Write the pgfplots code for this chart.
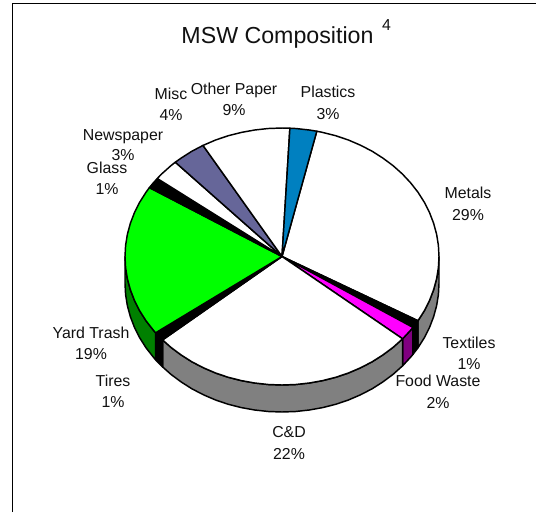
\documentclass[border=0pt]{standalone}
\usepackage{pgfplots}
\usepackage{fontspec}
\setmainfont{Liberation Sans}
\pgfplotsset{compat=1.18}
\definecolor{cblue}{HTML}{0080C0}
\definecolor{cmisc}{HTML}{666699}
\definecolor{cgreen}{HTML}{00FF00}
\definecolor{cdgreen}{HTML}{008000}
\definecolor{cmag}{HTML}{FF00FF}
\definecolor{cpur}{HTML}{800080}
\definecolor{cgray}{HTML}{808080}
\definecolor{ctext}{HTML}{111111}
\tikzset{lab/.style={anchor=base, font=\fontsize{11.9pt}{13pt}\selectfont, text=ctext, inner sep=0pt}}
\begin{document}
\begin{tikzpicture}
\begin{axis}[
  at={(0,0)}, anchor=south west,
  scale only axis, width=402pt, height=384pt,
  xmin=0, xmax=536, ymin=0, ymax=512, y dir=reverse,
  hide axis, clip=true,
  every axis plot/.append style={line width=1.1pt, line join=round, draw=black, mark=none},
]
% frame
\addplot[draw=black, mark=none] coordinates {(12.3,512) (12.3,3.3) (536,3.3)};
% side walls
\addplot[fill=cgray] coordinates {(439,256.5)(438.4,267.7)(436.6,278.8)(433.6,289.8)(429.5,300.5)(424.3,310.8)(418,320.75)
 (418,347.75)(424.3,337.8)(429.5,327.5)(433.6,316.8)(436.6,305.8)(438.4,294.7)(439,283.5)} --cycle;
\addplot[fill=black] coordinates {(418,320.75)(412.9,327.4)(412.9,354.4)(418,347.75)} --cycle;
\addplot[fill=cpur] coordinates {(412.9,327.4)(410.6,330.2)(402.6,338.8)(402.6,365.8)(410.6,357.2)(412.9,354.4)} --cycle;
\addplot[fill=cgray] coordinates {(402.6,338.8)(393,347.4)(382.9,354.9)(372.1,361.8)(360.5,367.8)(348.4,373)(335.7,377.3)(322.6,380.6)(309.3,383)(295.7,384.5)(282,385)(268.3,384.5)(254.7,383)(241.4,380.6)(228.3,377.3)(215.6,373)(203.5,367.8)(191.9,361.8)(181.1,354.9)(171,347.4)(162.6,339.9)
 (162.6,366.9)(171,374.4)(181.1,381.9)(191.9,388.8)(203.5,394.8)(215.6,400)(228.3,404.3)(241.4,407.6)(254.7,410)(268.3,411.5)(282,412)(295.7,411.5)(309.3,410)(322.6,407.6)(335.7,404.3)(348.4,400)(360.5,394.8)(372.1,388.8)(382.9,381.9)(393,374.4)(402.6,365.8)} --cycle;
\addplot[fill=black] coordinates {(162.6,339.9)(155.6,332.8)(155.6,359.8)(162.6,366.9)} --cycle;
\addplot[fill=cdgreen] coordinates {(155.6,332.8)(153.4,330.2)(146,320.75)(139.7,310.8)(134.5,300.5)(130.4,289.8)(127.4,278.8)(125.6,267.7)(125,256.5)
 (125,283.5)(125.6,294.7)(127.4,305.8)(130.4,316.8)(134.5,327.5)(139.7,337.8)(146,347.75)(153.4,357.2)(155.6,359.8)} --cycle;
% top wedges
\addplot[fill=white] coordinates {(282,256.5)(316.8,131.2)(322.6,132.4)(335.7,135.7)(348.4,140)(360.5,145.2)(372.1,151.2)(382.9,158.1)(393,165.6)(402.3,173.9)(410.6,182.8)(418,192.25)(424.3,202.2)(429.5,212.5)(433.6,223.2)(436.6,234.2)(438.4,245.3)(439,256.5)(438.4,267.7)(436.6,278.8)(433.6,289.8)(429.5,300.5)(424.3,310.8)(418,320.75)} --cycle;
\addplot[fill=black] coordinates {(282,256.5)(418,320.75)(412.9,327.4)} --cycle;
\addplot[fill=cmag] coordinates {(282,256.5)(412.9,327.4)(410.6,330.2)(402.6,338.8)} --cycle;
\addplot[fill=white] coordinates {(282,256.5)(402.6,338.8)(393,347.4)(382.9,354.9)(372.1,361.8)(360.5,367.8)(348.4,373)(335.7,377.3)(322.6,380.6)(309.3,383)(295.7,384.5)(282,385)(268.3,384.5)(254.7,383)(241.4,380.6)(228.3,377.3)(215.6,373)(203.5,367.8)(191.9,361.8)(181.1,354.9)(171,347.4)(162.6,339.9)} --cycle;
\addplot[fill=black] coordinates {(282,256.5)(162.6,339.9)(155.6,332.8)} --cycle;
\addplot[fill=cgreen] coordinates {(282,256.5)(155.6,332.8)(153.4,330.2)(146,320.75)(139.7,310.8)(134.5,300.5)(130.4,289.8)(127.4,278.8)(125.6,267.7)(125,256.5)(125.6,245.3)(127.4,234.2)(130.4,223.2)(134.5,212.5)(139.7,202.2)(146,192.25)(149.4,187.6)} --cycle;
\addplot[fill=black] coordinates {(282,256.5)(149.4,187.6)(153.4,182.8)(157.3,178.5)} --cycle;
\addplot[fill=white] coordinates {(282,256.5)(157.3,178.5)(161.7,173.9)(171,165.6)(175.3,162.2)} --cycle;
\addplot[fill=cmisc] coordinates {(282,256.5)(175.3,162.2)(181.1,158.1)(191.9,151.2)(203,145.4)} --cycle;
\addplot[fill=white] coordinates {(282,256.5)(203,145.4)(203.5,145.2)(215.6,140)(228.3,135.7)(241.4,132.4)(254.7,130)(268.3,128.5)(282,128)(289.9,128.2)} --cycle;
\addplot[fill=cblue] coordinates {(282,256.5)(289.9,128.2)(295.7,128.5)(309.3,130)(316.8,131.2)} --cycle;
% text
\node[anchor=base, font=\fontsize{17.4pt}{20pt}\selectfont, text=ctext, inner sep=0pt] at (axis cs:277.5,43) {MSW Composition};
\node[anchor=base, font=\fontsize{11.9pt}{13pt}\selectfont, text=ctext, inner sep=0pt] at (axis cs:386.5,30) {4};
\node[lab] at (axis cs:328,97) {Plastics};
\node[lab] at (axis cs:328,119) {3\%};
\node[lab] at (axis cs:468,198) {Metals};
\node[lab] at (axis cs:468,220) {29\%};
\node[lab] at (axis cs:469,348) {Textiles};
\node[lab] at (axis cs:469,369) {1\%};
\node[lab] at (axis cs:438,386) {Food Waste};
\node[lab] at (axis cs:438,408) {2\%};
\node[lab] at (axis cs:289,437) {C\&D};
\node[lab] at (axis cs:289,459) {22\%};
\node[lab] at (axis cs:113,386) {Tires};
\node[lab] at (axis cs:113,407) {1\%};
\node[lab] at (axis cs:91,338) {Yard Trash};
\node[lab] at (axis cs:91,359) {19\%};
\node[lab] at (axis cs:107,173) {Glass};
\node[lab] at (axis cs:107,194) {1\%};
\node[lab] at (axis cs:123,140) {Newspaper};
\node[lab] at (axis cs:123,160.5) {3\%};
\node[lab] at (axis cs:171,99) {Misc};
\node[lab] at (axis cs:171,120) {4\%};
\node[lab] at (axis cs:234,94) {Other Paper};
\node[lab] at (axis cs:234,115) {9\%};
\end{axis}
\path[use as bounding box] (0,0) rectangle (402pt,384pt);
\end{tikzpicture}
\end{document}
